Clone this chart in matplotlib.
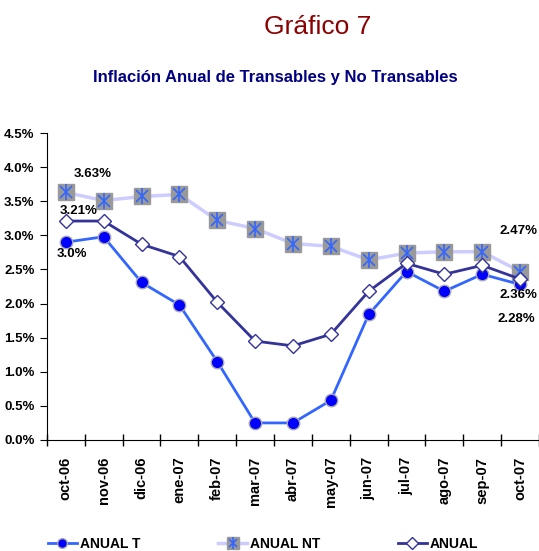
import matplotlib.pyplot as plt
from matplotlib.ticker import FuncFormatter
from matplotlib.lines import Line2D

months = ["oct-06", "nov-06", "dic-06", "ene-07", "feb-07", "mar-07", "abr-07",
          "may-07", "jun-07", "jul-07", "ago-07", "sep-07", "oct-07"]
anual_t = [2.90, 2.98, 2.31, 1.98, 1.15, 0.25, 0.25, 0.58, 1.84, 2.47, 2.18, 2.43, 2.28]
anual_nt = [3.63, 3.51, 3.57, 3.60, 3.22, 3.10, 2.88, 2.84, 2.64, 2.74, 2.76, 2.76, 2.47]
anual = [3.21, 3.21, 2.87, 2.69, 2.02, 1.45, 1.38, 1.55, 2.18, 2.59, 2.43, 2.56, 2.36]

plt.rcParams['font.family'] = ['Liberation Sans', 'DejaVu Sans']

fig = plt.figure(figsize=(5.39, 5.51), dpi=100)
ax = fig.add_axes([0.087, 0.2015, 0.913, 0.557])
x = list(range(len(months)))

c_t = "#3366ff"
c_nt = "#ccccff"
c_a = "#333399"

ax.plot(x, anual_t, color=c_t, lw=2, marker="o", ms=9, mfc="#0000ff",
        mec="#aaaaaa", mew=1, zorder=3)
ax.plot(x, anual_nt, color=c_nt, lw=2.5, marker="s", ms=12, mfc="#999999",
        mec="#999999", zorder=2)
ax.plot(x, anual_nt, ls="none", marker="x", ms=9, mec="#3366ff", mew=1.2, zorder=2)
ax.plot(x, anual_nt, ls="none", marker="|", ms=11, mec="#3366ff", mew=1.2, zorder=2)
ax.plot(x, anual, color=c_a, lw=2, marker="D", ms=7, mfc="white",
        mec=c_a, mew=1, zorder=4)

ax.set_xlim(-0.5, len(months) - 0.5)
ax.set_ylim(0, 4.5)
ax.set_yticks([i * 0.5 for i in range(10)])
ax.yaxis.set_major_formatter(FuncFormatter(lambda v, p: f"{v:.1f}%"))
ax.set_xticks([i - 0.5 for i in range(len(months) + 1)], minor=False)
ax.set_xticklabels([])
ax.set_xticks(x, minor=True)
ax.set_xticklabels(months, minor=True, rotation=90, fontsize=10.5, fontweight="bold")
ax.tick_params(axis="x", which="minor", length=0, pad=12)
ax.tick_params(axis="x", which="major", direction="inout", length=8, width=1)
ax.tick_params(axis="y", direction="out", length=5, labelsize=9.5, pad=4)
for lab in ax.get_yticklabels():
    lab.set_fontweight("bold")
ax.spines["top"].set_visible(False)
ax.spines["right"].set_visible(False)

kw = dict(fontsize=9.5, fontweight="bold", ha="center", va="center",
          textcoords="offset points")
ax.annotate("3.63%", (0, anual_nt[0]), xytext=(19.5, 13), **kw)
ax.annotate("3.21%", (0, anual[0]), xytext=(9, 7), **kw)
ax.annotate("3.0%", (0, anual_t[0]), xytext=(4.5, -8.5), **kw)
ax.annotate("2.47%", (12, anual_nt[-1]), xytext=(-1, 29), **kw)
ax.annotate("2.36%", (12, anual[-1]), xytext=(-1, -11.5), **kw)
ax.annotate("2.28%", (12, anual_t[-1]), xytext=(-3, -24.5), **kw)

fig.text(0.59, 0.951, "Gráfico 7", color="#8b0000", fontsize=19,
         ha="center", va="center")
fig.text(0.51, 0.859, "Inflación Anual de Transables y No Transables", color="#000080",
         fontsize=12, fontweight="bold", ha="center", va="center")

h_t = Line2D([], [], color=c_t, lw=2, marker="o", ms=7, mfc="#0000ff", mec="#aaaaaa")
h_nt = (Line2D([], [], color=c_nt, lw=2.5, marker="s", ms=9, mfc="#999999", mec="#999999"),
        Line2D([], [], ls="none", marker="x", ms=6, mec="#3366ff", mew=1.2),
        Line2D([], [], ls="none", marker="|", ms=8, mec="#3366ff", mew=1.2))
h_a = Line2D([], [], color=c_a, lw=2, marker="D", ms=6, mfc="white", mec=c_a)
fig.legend([h_t, h_nt, h_a], ["ANUAL T", "ANUAL NT", "ANUAL"], loc="lower center",
           bbox_to_anchor=(0.488, -0.022), ncol=3, frameon=False, columnspacing=5.6,
           handlelength=2.1, handletextpad=0.2,
           prop={"weight": "bold", "size": 10})

fig.savefig("out.png", dpi=100)
